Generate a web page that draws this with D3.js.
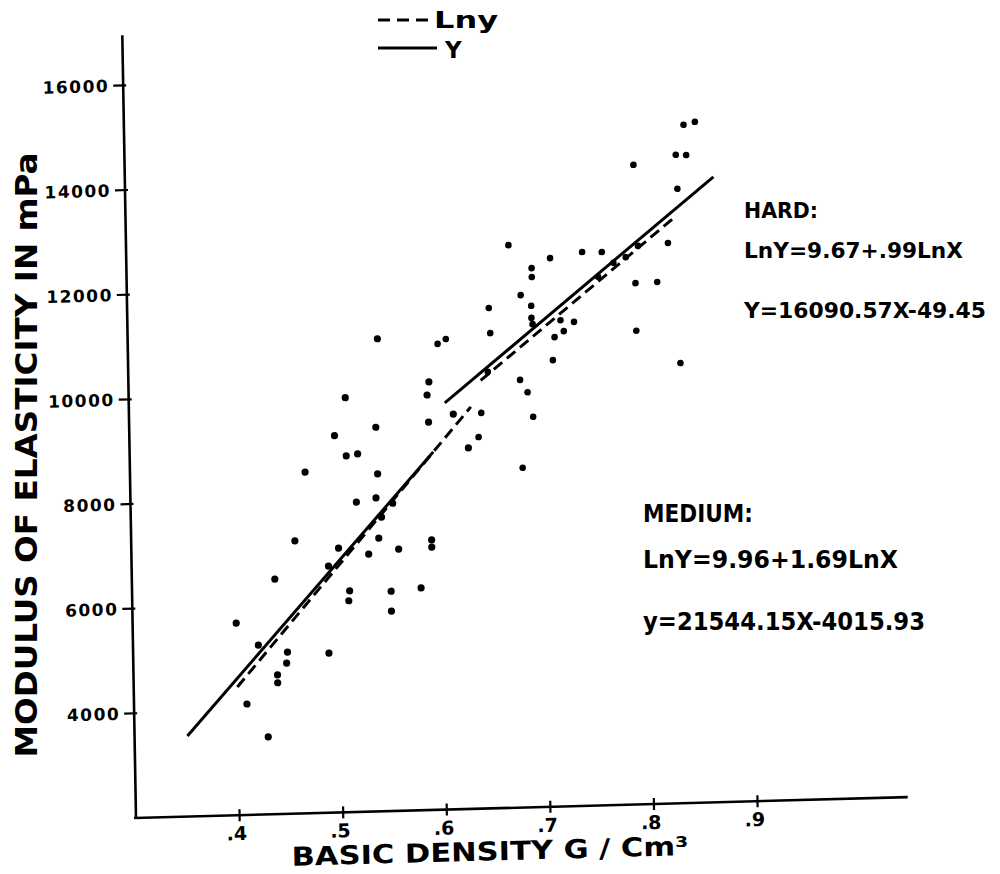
<!DOCTYPE html>
<html><head><meta charset="utf-8">
<script src="https://cdn.jsdelivr.net/npm/d3@7"></script>
<style>body{margin:0;background:#fff}svg{display:block}</style>
</head><body>
<svg id="c" width="1000" height="874"></svg>
<script>
// ---- data ----
const xTicks = [0.4, 0.5, 0.6, 0.7, 0.8, 0.9];
const xTickLabels = [".4", ".5", ".6", ".7", ".8", ".9"];
const yTicks = [4000, 6000, 8000, 10000, 12000, 14000, 16000];
const yTickLabels = ["4000", "6000", "8000", "10000", "12000", "14000", "16000"];

// medium density samples (basic density, MOE in MPa)
const mediumX = [0.400,0.409,0.421,0.429,0.438,0.439,0.439,0.449,0.448,0.458,0.469,0.490,0.489,0.498,0.500,0.509,0.509,0.510,0.509,0.520,0.518,0.529,0.537,0.541,0.538,0.539,0.539,0.550,0.550,0.558,0.579,0.588,0.590,0.589,0.590,0.590,0.542,0.553,0.613,0.627];
const mediumY = [5670,4120,5240,3480,6490,4660,4510,5090,4880,7210,8520,6710,5050,9200,7050,9920,8810,6230,6040,8840,7920,6920,7990,11030,9340,8450,7220,6200,5820,7000,6250,9930,10180,9410,7160,7020,7620,7880,9550,8900];
// hard density samples
const hardX = [0.599,0.607,0.637,0.640,0.647,0.650,0.649,0.680,0.669,0.691,0.691,0.690,0.690,0.691,0.678,0.685,0.690,0.679,0.710,0.709,0.712,0.721,0.718,0.731,0.740,0.759,0.791,0.812,0.791,0.823,0.833,0.791,0.833,0.832,0.842,0.840,0.851,0.755,0.770,0.782,0.794];
const hardY = [10900,10990,9100,9560,10340,11080,11560,11790,12750,12300,12130,11580,11350,11230,10170,9930,9460,8490,10530,12480,10970,11080,11290,11250,12580,12570,11960,11970,11050,12710,10410,14220,13740,14390,14380,14960,15010,12100,12360,12460,12670];

// fitted lines (end points)
const mediumLinX = [0.351, 0.593], mediumLinY = [3540, 8840];
const hardLinX   = [0.605, 0.868], hardLinY   = [9770, 13950];
const mediumLogX = [0.400, 0.630], mediumLogY = [4450, 9680];
const hardLogX   = [0.640, 0.830], hardLogY   = [10180, 13200];

const legendLabels = ["Lny", "Y"];
const hardText = ["HARD:", "LnY=9.67+.99LnX", "Y=16090.57X-49.45"];
const mediumText = ["MEDIUM:", "LnY=9.96+1.69LnX", "y=21544.15X-4015.93"];

// ---- drawing ----
const FONT = "'DejaVu Sans', sans-serif";
const svg = d3.select("#c");
svg.append("rect").attr("width",1000).attr("height",874).attr("fill","#fff");

const x = d3.scaleLinear().domain([0.3, 1.045]).range([0, 772]);
const y = d3.scaleLinear().domain([2000, 17000]).range([0, -785]);

// the scanned figure is slightly skewed
const g = svg.append("g").attr("transform", "matrix(0.99963,-0.02705,0.0175,0.99985,136,818)");

// axes
g.append("line").attr("x1",0).attr("y1",0).attr("x2",0).attr("y2",y(16960))
  .attr("stroke","#000").attr("stroke-width",2.6);
g.append("line").attr("x1",-2).attr("y1",0).attr("x2",x(1.045)).attr("y2",0)
  .attr("stroke","#000").attr("stroke-width",2.6);

g.selectAll(".yt").data(yTicks).enter().append("line")
  .attr("x1",-10).attr("x2",3).attr("y1",d=>y(d)).attr("y2",d=>y(d))
  .attr("stroke","#000").attr("stroke-width",2.2);
g.selectAll(".xt").data(xTicks).enter().append("line")
  .attr("x1",d=>x(d)).attr("x2",d=>x(d)).attr("y1",-6).attr("y2",6)
  .attr("stroke","#000").attr("stroke-width",2.2);

g.selectAll(".ytl").data(yTicks).enter().append("text")
  .attr("x",-14).attr("y",d=>y(d)).attr("dy","0.36em")
  .attr("text-anchor","end").attr("font-family",FONT).attr("font-weight","bold")
  .attr("font-size",17).attr("letter-spacing",1.5)
  .text((d,i)=>yTickLabels[i]);
g.selectAll(".xtl").data(xTicks).enter().append("text")
  .attr("x",d=>x(d)-3).attr("y",25)
  .attr("text-anchor","middle").attr("font-family",FONT).attr("font-weight","bold")
  .attr("font-size",19)
  .text((d,i)=>xTickLabels[i]);

// axis titles
g.append("text").attr("x",155).attr("y",52)
  .attr("font-family",FONT).attr("font-weight","bold").attr("font-size",26)
  .attr("textLength",397).attr("lengthAdjust","spacingAndGlyphs")
  .text("BASIC DENSITY G / Cm³");
svg.append("text").attr("transform","translate(37,455) rotate(-90)")
  .attr("text-anchor","middle")
  .attr("font-family",FONT).attr("font-weight","bold").attr("font-size",30)
  .attr("textLength",605).attr("lengthAdjust","spacingAndGlyphs")
  .text("MODULUS OF ELASTICITY IN mPa");

// fitted lines
const line = d3.line().x(d=>x(d[0])).y(d=>y(d[1]));
function seg(xs, ys, dashed){
  g.append("path").attr("d", line(d3.zip(xs, ys)))
   .attr("fill","none").attr("stroke","#000").attr("stroke-width",3)
   .attr("stroke-dasharray", dashed ? "11,6" : null);
}
seg(mediumLinX, mediumLinY, false);
seg(hardLinX, hardLinY, false);
seg(mediumLogX, mediumLogY, true);
seg(hardLogX, hardLogY, true);

// points
function pts(xs, ys, r){
  g.selectAll(null).data(d3.zip(xs, ys)).enter().append("circle")
   .attr("cx",d=>x(d[0])).attr("cy",d=>y(d[1])).attr("r",r).attr("fill","#000");
}
pts(mediumX, mediumY, 3.6);
pts(hardX, hardY, 3.3);

// legend
const lg = svg.append("g");
lg.append("line").attr("x1",378).attr("x2",432).attr("y1",20).attr("y2",20)
  .attr("stroke","#000").attr("stroke-width",3).attr("stroke-dasharray","12,7");
lg.append("text").attr("x",434).attr("y",28).attr("font-family",FONT).attr("font-weight","bold")
  .attr("font-size",23).attr("textLength",64).attr("lengthAdjust","spacingAndGlyphs").text(legendLabels[0]);
lg.append("line").attr("x1",378).attr("x2",437).attr("y1",48).attr("y2",48)
  .attr("stroke","#000").attr("stroke-width",3);
lg.append("text").attr("x",445).attr("y",58).attr("font-family",FONT).attr("font-weight","bold")
  .attr("font-size",23).text(legendLabels[1]);

// equations
function block(lines, xs, ys, widths, size){
  lines.forEach((t,i)=>{
    svg.append("text").attr("x",xs).attr("y",ys[i])
      .attr("font-family",FONT).attr("font-weight","bold").attr("font-size",size)
      .attr("textLength",widths[i]).attr("lengthAdjust","spacingAndGlyphs").text(t);
  });
}
block(hardText, 744, [218, 258, 318], [74, 219, 242], 22);
block(mediumText, 643, [522, 568, 630], [110, 255, 282], 24);
</script>
</body></html>
